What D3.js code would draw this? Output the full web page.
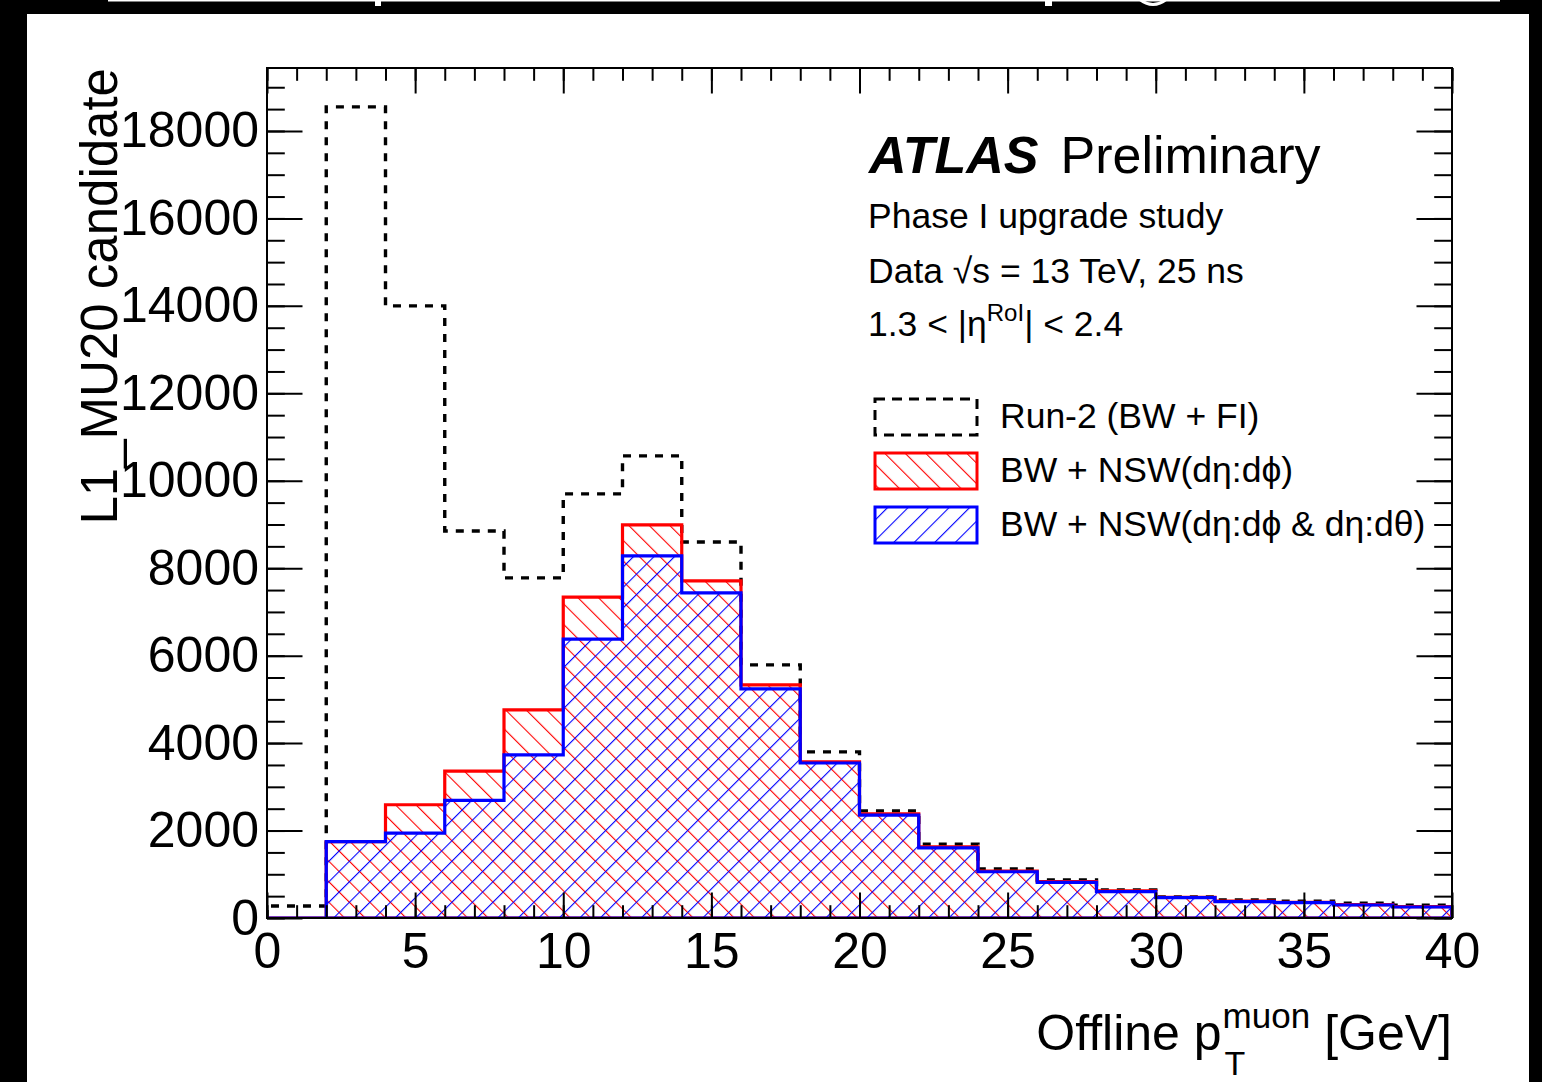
<!DOCTYPE html>
<html>
<head>
<meta charset="utf-8">
<script src="https://cdn.jsdelivr.net/npm/d3@7"></script>
<style>
  body { margin: 0; background: #000; }
  text { font-family: "Liberation Sans", Arial, Helvetica, sans-serif; fill: #000; }
</style>
</head>
<body>
<svg id="chart" width="1542" height="1082"></svg>
<script>
// bin edges: 20 bins of 2 GeV from 0 to 40
var binEdges = [0, 2, 4, 6, 8, 10, 12, 14, 16, 18, 20, 22, 24, 26, 28, 30, 32, 34, 36, 38, 40];

// Run-2 (BW + FI)
var run2 = [275, 18550, 14000, 8850, 7780, 9700, 10570, 8600, 5790, 3800,
            2450, 1690, 1120, 870, 640, 480, 410, 385, 340, 295];
// BW + NSW(deta:dphi)
var nswPhi = [0, 1745, 2590, 3360, 4760, 7340, 8990, 7710, 5330, 3570,
              2380, 1625, 1075, 830, 620, 475, 385, 360, 305, 260];
// BW + NSW(deta:dphi & deta:dtheta)
var nswPhiTheta = [0, 1745, 1940, 2690, 3730, 6380, 8280, 7435, 5240, 3545,
                   2355, 1605, 1058, 815, 602, 465, 373, 350, 297, 252];

var xMajor = [0, 5, 10, 15, 20, 25, 30, 35, 40];
var yMajor = [0, 2000, 4000, 6000, 8000, 10000, 12000, 14000, 16000, 18000];

var legendLabels = ["Run-2 (BW + FI)", "BW + NSW(d\u03b7:d\u03d5)", "BW + NSW(d\u03b7:d\u03d5 & d\u03b7:d\u03b8)"];

var svg = d3.select("#chart");

// background: black slide border with white panel
svg.append("rect").attr("width", 1542).attr("height", 1082).attr("fill", "#000");
svg.append("rect").attr("x", 27).attr("y", 14).attr("width", 1502).attr("height", 1068).attr("fill", "#fff");
// bits of the cut-off slide title above
svg.append("rect").attr("x", 108).attr("y", 0).attr("width", 1392).attr("height", 1.5).attr("fill", "#fff");
svg.append("rect").attr("x", 375).attr("y", 0).attr("width", 6).attr("height", 6).attr("fill", "#fff");
svg.append("rect").attr("x", 1045).attr("y", 0).attr("width", 7).attr("height", 6).attr("fill", "#fff");
svg.append("path").attr("d", "M1138,0 Q1153,12 1168,0 L1163,0 Q1153,6 1143,0 Z").attr("fill", "#fff");

var pLeft = 267, pRight = 1452, pTop = 68, pBottom = 918;

var x = d3.scaleLinear().domain([0, 40]).range([pLeft, pRight]);
var y = d3.scaleLinear().domain([0, 19440]).range([pBottom, pTop]);

// hatch patterns
var defs = svg.append("defs");
function hatch(id, color, angle) {
    var p = defs.append("pattern")
        .attr("id", id)
        .attr("patternUnits", "userSpaceOnUse")
        .attr("width", 14.5).attr("height", 14.5)
        .attr("patternTransform", "rotate(" + angle + ")");
    p.append("line")
        .attr("x1", 0).attr("y1", 0).attr("x2", 0).attr("y2", 14.5)
        .attr("stroke", color).attr("stroke-width", 2.2);
}
hatch("hatchRed", "#ff0000", -45);   // "\" lines
hatch("hatchBlue", "#0000ff", 45);   // "/" lines

svg.append("clipPath").attr("id", "plotClip")
  .append("rect").attr("x", pLeft).attr("y", pTop).attr("width", pRight - pLeft).attr("height", pBottom - pTop);

function stepPoints(vals) {
    var pts = [[binEdges[0], 0]];
    vals.forEach(function(v, i) {
        pts.push([binEdges[i], v]);
        pts.push([binEdges[i + 1], v]);
    });
    pts.push([binEdges[binEdges.length - 1], 0]);
    return pts;
}

var line = d3.line().x(function(d) { return x(d[0]); }).y(function(d) { return y(d[1]); });

var plot = svg.append("g").attr("clip-path", "url(#plotClip)");

// Run-2, dashed outline
plot.append("path")
    .attr("d", line(stepPoints(run2)))
    .attr("fill", "none")
    .attr("stroke", "#000")
    .attr("stroke-width", 3.4)
    .attr("stroke-dasharray", "8,8");

// red hatched
plot.append("path")
    .attr("d", line(stepPoints(nswPhi)) + "Z")
    .attr("fill", "url(#hatchRed)")
    .attr("stroke", "#ff0000")
    .attr("stroke-width", 3.2);

// blue hatched
plot.append("path")
    .attr("d", line(stepPoints(nswPhiTheta)) + "Z")
    .attr("fill", "url(#hatchBlue)")
    .attr("stroke", "#0000ff")
    .attr("stroke-width", 3.2);

// axes (redrawn on top of the histograms)
var fontTick = 50;
function styleAxis(g) {
    g.select(".domain").remove();
    g.selectAll(".tick line").attr("stroke", "#000").attr("stroke-width", 2);
    g.selectAll("text").attr("font-size", fontTick).attr("fill", "#000")
        .attr("font-family", "Liberation Sans, Arial, sans-serif");
}

svg.append("g").attr("transform", "translate(0," + pBottom + ")")
    .call(d3.axisBottom(x).tickValues(xMajor).tickSize(-25.5).tickPadding(14).tickFormat(d3.format("d")))
    .call(styleAxis);
svg.append("g").attr("transform", "translate(0," + pBottom + ")")
    .call(d3.axisBottom(x).tickValues(d3.range(0, 41, 1)).tickSize(-12.8).tickFormat(""))
    .call(styleAxis);
svg.append("g").attr("transform", "translate(0," + pTop + ")")
    .call(d3.axisTop(x).tickValues(xMajor).tickSize(-25.5).tickFormat(""))
    .call(styleAxis);
svg.append("g").attr("transform", "translate(0," + pTop + ")")
    .call(d3.axisTop(x).tickValues(d3.range(0, 41, 1)).tickSize(-12.8).tickFormat(""))
    .call(styleAxis);

svg.append("g").attr("transform", "translate(" + pLeft + ",0)")
    .call(d3.axisLeft(y).tickValues(yMajor).tickSize(-35.5).tickPadding(8).tickFormat(d3.format("d")))
    .call(styleAxis);
svg.append("g").attr("transform", "translate(" + pLeft + ",0)")
    .call(d3.axisLeft(y).tickValues(d3.range(0, 19441, 500)).tickSize(-17.8).tickFormat(""))
    .call(styleAxis);
svg.append("g").attr("transform", "translate(" + pRight + ",0)")
    .call(d3.axisRight(y).tickValues(yMajor).tickSize(-35.5).tickFormat(""))
    .call(styleAxis);
svg.append("g").attr("transform", "translate(" + pRight + ",0)")
    .call(d3.axisRight(y).tickValues(d3.range(0, 19441, 500)).tickSize(-17.8).tickFormat(""))
    .call(styleAxis);

// frame
svg.append("rect")
    .attr("x", pLeft).attr("y", pTop).attr("width", pRight - pLeft).attr("height", pBottom - pTop)
    .attr("fill", "none").attr("stroke", "#000").attr("stroke-width", 2);

// y title
svg.append("text")
    .attr("transform", "translate(117," + pTop + ") rotate(-90)")
    .attr("text-anchor", "end")
    .attr("font-size", 51)
    .text("L1_MU20 candidate");

// x title: Offline p_T^muon [GeV]
var xt = svg.append("g");
var gev = xt.append("text").attr("x", pRight).attr("y", 1050).attr("text-anchor", "end")
    .attr("font-size", 50).text("[GeV]");
var gevW = gev.node().getComputedTextLength();
var muon = xt.append("text").attr("x", pRight - gevW - 14).attr("y", 1028).attr("text-anchor", "end")
    .attr("font-size", 35).text("muon");
var muonW = muon.node().getComputedTextLength();
var subX = pRight - gevW - 14 - muonW;
xt.append("text").attr("x", subX + 2).attr("y", 1075).attr("font-size", 34).text("T");
xt.append("text").attr("x", subX - 1).attr("y", 1050).attr("text-anchor", "end")
    .attr("font-size", 50).text("Offline p");

// ATLAS label
var lab = svg.append("text").attr("x", 869).attr("y", 173).attr("font-size", 52);
lab.append("tspan").attr("font-weight", "bold").attr("font-style", "italic").text("ATLAS");
lab.append("tspan").attr("dx", 22).text("Preliminary");

svg.append("text").attr("x", 868).attr("y", 228).attr("font-size", 35.5).text("Phase I upgrade study");
svg.append("text").attr("x", 868).attr("y", 283).attr("font-size", 35.5).text("Data \u221As = 13 TeV, 25 ns");
var eta = svg.append("text").attr("x", 868).attr("y", 336).attr("font-size", 35.5);
eta.append("tspan").text("1.3 < |\u03b7");
eta.append("tspan").attr("font-size", 24).attr("dy", -15).text("RoI");
eta.append("tspan").attr("dy", 15).text("| < 2.4");

// legend
var legY = [417, 471, 525];
var legStyles = [
    { fill: "none", stroke: "#000", dash: "10,7" },
    { fill: "url(#hatchRed)", stroke: "#ff0000", dash: null },
    { fill: "url(#hatchBlue)", stroke: "#0000ff", dash: null }
];
legendLabels.forEach(function(lbl, i) {
    svg.append("rect")
        .attr("x", 875).attr("y", legY[i] - 18).attr("width", 102).attr("height", 36)
        .attr("fill", legStyles[i].fill)
        .attr("stroke", legStyles[i].stroke)
        .attr("stroke-width", 3)
        .attr("stroke-dasharray", legStyles[i].dash);
    svg.append("text").attr("x", 1000).attr("y", legY[i] + 11).attr("font-size", 35.5).text(lbl);
});
</script>
</body>
</html>
